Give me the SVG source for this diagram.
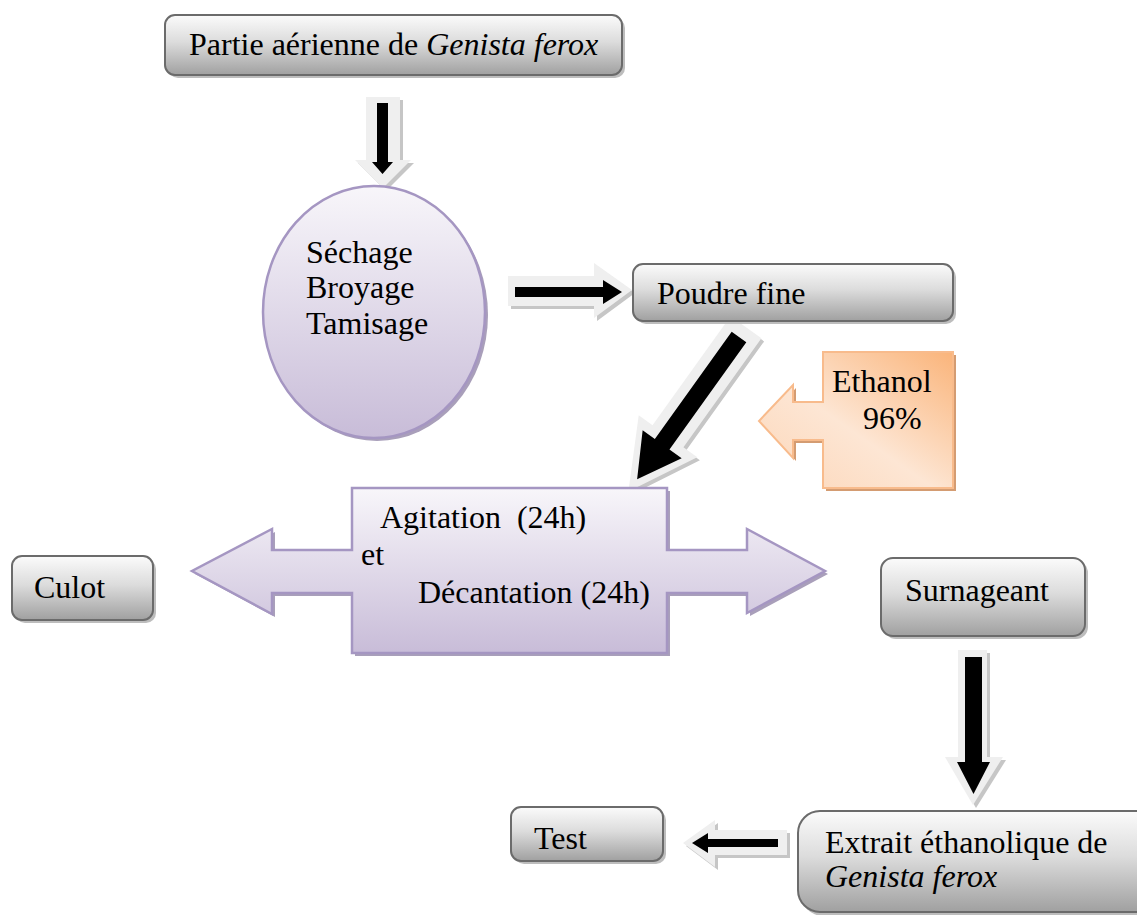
<svg xmlns="http://www.w3.org/2000/svg" width="1137" height="915" viewBox="0 0 1137 915">
<style>
  .t { font-family: "Liberation Serif", "Times New Roman", serif; font-size: 32px; fill: #000; }
  .i { font-style: italic; }
  .box { fill: url(#gGray); stroke: #6b6b6b; stroke-width: 2; }
  .shadow { fill: #bdbdbd; }
  .outA { fill: #efefef; }
  .outS { fill: #c6c6c6; }
  .blk { fill: #000; }
  .pur { fill: url(#gPurple); stroke: #a596c2; stroke-width: 2.5; }
  .purS { fill: #a99fba; }
</style>
<defs>
  <linearGradient id="gGray" x1="0" y1="0" x2="0" y2="1">
    <stop offset="0" stop-color="#fbfbfb"/>
    <stop offset="0.45" stop-color="#dcdcdc"/>
    <stop offset="1" stop-color="#a0a0a0"/>
  </linearGradient>
  <linearGradient id="gPurple" x1="0" y1="0" x2="0" y2="1">
    <stop offset="0" stop-color="#f8f6fa"/>
    <stop offset="1" stop-color="#c8bcd8"/>
  </linearGradient>
  <linearGradient id="gOrange" x1="1" y1="0" x2="0" y2="1">
    <stop offset="0" stop-color="#fab47a"/>
    <stop offset="0.55" stop-color="#fde6d4"/>
    <stop offset="1" stop-color="#fcd6b8"/>
  </linearGradient>
</defs>

<g id="connectors">
  <g id="arrow-top-down">
    <path class="outS" d="M369,100 H403 V163 H414 L386,191 L358,163 H369 Z"/>
    <path class="outA" d="M366,97 H400 V160 H411 L383,188 L355,160 H366 Z"/>
    <path class="blk" d="M377,103 H388 V162 H393 L382.5,174 L372,162 H377 Z"/>
  </g>
  <g id="arrow-right">
    <path class="outS" d="M511,279 H597 V266 L635,293 L597,321 V309 H511 Z"/>
    <path class="outA" d="M508,276 H594 V263 L632,290 L594,318 V306 H508 Z"/>
    <path class="blk" d="M515,287 H603 V280 L622,292 L603,304 V297 H515 Z"/>
  </g>
  <g id="arrow-diagonal" transform="translate(739,337) rotate(35.6)">
    <path class="outS" transform="translate(4,1)" d="M-19,-12 H19 V122 H36 L0,190 L-36,122 H-19 Z"/>
    <path class="outA" d="M-19,-12 H19 V122 H36 L0,190 L-36,122 H-19 Z"/>
    <path class="blk" d="M-9,0 H9 V132 H24 L0,175 L-24,132 H-9 Z"/>
  </g>
  <g id="arrow-surnageant-down">
    <path class="outS" d="M961,653 H990 V760 H1006 L976,808 L948,760 H961 Z"/>
    <path class="outA" d="M958,650 H987 V757 H1003 L973,805 L945,757 H958 Z"/>
    <path class="blk" d="M965,657 H982 V762 H990 L973.5,794 L957,762 H965 Z"/>
  </g>
  <g id="arrow-left-test">
    <path class="outS" d="M790,833 H718 V823 L686,846 L718,870 V858 H790 Z"/>
    <path class="outA" d="M787,830 H715 V820 L683,843 L715,867 V855 H787 Z"/>
    <path class="blk" d="M778,839 H708 V833 L692,843 L708,853 V847 H778 Z"/>
  </g>
</g>

<g id="node-partie">
  <rect class="shadow" x="168" y="18" width="457" height="60" rx="10"/>
  <rect class="box" x="165" y="15" width="457" height="60" rx="10"/>
  <text class="t" x="189" y="55">Partie aérienne de <tspan class="i">Genista ferox</tspan></text>
</g>

<g id="node-sechage">
  <ellipse class="purS" cx="377" cy="315" rx="111" ry="126"/>
  <ellipse class="pur" cx="374" cy="312" rx="111" ry="126"/>
  <text class="t" x="306" y="263">Séchage</text>
  <text class="t" x="306" y="298">Broyage</text>
  <text class="t" x="306" y="334">Tamisage</text>
</g>

<g id="node-poudre">
  <rect class="shadow" x="636" y="267" width="320" height="57" rx="10"/>
  <rect class="box" x="633" y="264" width="320" height="57" rx="10"/>
  <text class="t" x="657" y="304">Poudre fine</text>
</g>

<g id="node-ethanol">
  <path fill="#d49c72" d="M826,355 H956 V491 H826 V443 H796 V461 L762,424 L796,388 V405 H826 Z"/>
  <path fill="url(#gOrange)" stroke="#f8bb8c" stroke-width="2" d="M823,352 H953 V488 H823 V440 H793 V458 L759,421 L793,385 V402 H823 Z"/>
  <text class="t" x="832" y="392">Ethanol</text>
  <text class="t" x="863" y="429">96%</text>
</g>

<g id="node-agitation">
  <path class="purS" d="M355,491 H670 V553 H750 V532 L828,574 L750,616 V596 H670 V656 H355 V596 H275 V617 L195,574 L275,532 V553 H355 Z"/>
  <path class="pur" d="M352,488 H667 V550 H747 V529 L825,571 L747,613 V593 H667 V653 H352 V593 H272 V614 L192,571 L272,529 V550 H352 Z"/>
  <text class="t" x="380" y="528" style="white-space:pre">Agitation  (24h)</text>
  <text class="t" x="361" y="565">et</text>
  <text class="t" x="418" y="603">Décantation (24h)</text>
</g>

<g id="node-culot">
  <rect class="shadow" x="15" y="559" width="141" height="64" rx="10"/>
  <rect class="box" x="12" y="556" width="141" height="64" rx="10"/>
  <text class="t" x="34" y="598">Culot</text>
</g>

<g id="node-surnageant">
  <rect class="shadow" x="884" y="561" width="204" height="78" rx="12"/>
  <rect class="box" x="881" y="558" width="204" height="78" rx="12"/>
  <text class="t" x="905" y="601">Surnageant</text>
</g>

<g id="node-test">
  <rect class="shadow" x="514" y="810" width="152" height="54" rx="10"/>
  <rect class="box" x="511" y="807" width="152" height="54" rx="10"/>
  <text class="t" x="534" y="849">Test</text>
</g>

<g id="node-extrait">
  <rect class="shadow" x="801" y="814" width="360" height="102" rx="22"/>
  <rect class="box" x="798" y="811" width="360" height="101" rx="22"/>
  <text class="t" x="825" y="853">Extrait éthanolique de</text>
  <text class="t i" x="825" y="887">Genista ferox</text>
</g>
</svg>
